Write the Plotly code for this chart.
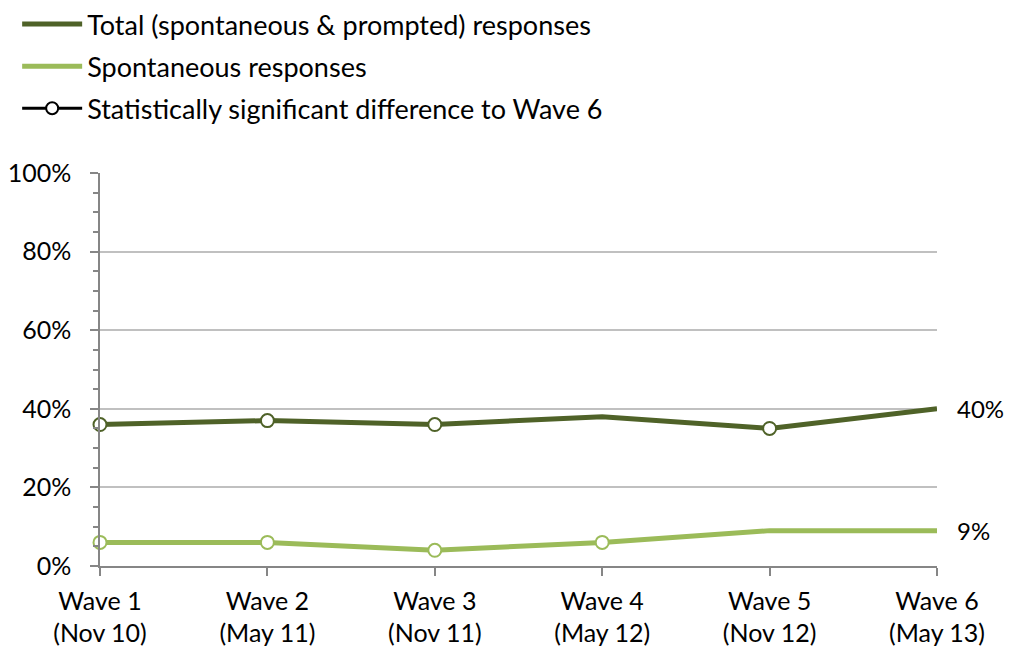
import plotly.graph_objects as go

waves = ["Wave 1<br>(Nov 10)", "Wave 2<br>(May 11)", "Wave 3<br>(Nov 11)",
         "Wave 4<br>(May 12)", "Wave 5<br>(Nov 12)", "Wave 6<br>(May 13)"]
total = [36, 37, 36, 38, 35, 40]
spontaneous = [6, 6, 4, 6, 9, 9]
# waves that differ significantly from Wave 6
total_sig = [True, True, True, False, True, False]
spont_sig = [True, True, True, True, False, False]

DARK = "#4f6228"
LIGHT = "#9bbb59"
FONT = "Lato, 'Open Sans', sans-serif"

x = list(range(len(waves)))

fig = go.Figure()


def add_series(values, sig, color, name, group):
    fig.add_trace(go.Scatter(
        x=x, y=values, mode="lines", name=name, legendgroup=group,
        line=dict(color=color, width=5), cliponaxis=False,
        hoverinfo="skip",
    ))
    xs = [xi for xi, s in zip(x, sig) if s]
    ys = [v for v, s in zip(values, sig) if s]
    fig.add_trace(go.Scatter(
        x=xs, y=ys, mode="markers", showlegend=False,
        marker=dict(symbol="circle", size=13, color="white",
                    line=dict(color=color, width=2)),
        cliponaxis=False, hoverinfo="skip",
    ))
    # value label at the latest wave
    fig.add_annotation(x=x[-1], y=values[-1], text=f"{values[-1]}%",
                       showarrow=False, xanchor="left", xshift=18,
                       font=dict(size=24, color="black", family=FONT))


add_series(total, total_sig, DARK, "Total (spontaneous & prompted) responses", "a")
add_series(spontaneous, spont_sig, LIGHT, "Spontaneous responses", "b")

# legend key for significance markers
fig.add_trace(go.Scatter(
    x=[None], y=[None], mode="lines+markers", legendgroup="c",
    name="Statistically significant difference to Wave 6",
    line=dict(color="black", width=3),
    marker=dict(symbol="circle", size=12, color="white",
                line=dict(color="black", width=2)),
))

fig.update_layout(
    width=1009, height=657,
    margin=dict(l=100, r=72, t=173, b=91, autoexpand=False),
    plot_bgcolor="white", paper_bgcolor="white",
    font=dict(family=FONT, size=24, color="black"),
    showlegend=True,
    legend=dict(xref="container", yref="container",
                x=0.017, xanchor="left", y=1.008, yanchor="top",
                orientation="v", tracegroupgap=4,
                font=dict(size=27), itemwidth=60,
                bgcolor="rgba(0,0,0,0)"),
    xaxis=dict(
        range=[0, 5], tickmode="array", tickvals=x, ticktext=waves,
        showgrid=False, zeroline=False,
        showline=True, linecolor="#868686", linewidth=1.5,
        ticks="outside", ticklen=8, tickcolor="#868686", tickwidth=1.5,
        tickfont=dict(size=25), ticklabelstandoff=4,
    ),
    yaxis=dict(
        range=[0, 100], tickvals=[0, 20, 40, 60, 80, 100],
        ticktext=["0%", "20%", "40%", "60%", "80%", "100%"],
        showgrid=True, gridcolor="#c0c0c0", gridwidth=1.5,
        zeroline=False,
        showline=True, linecolor="#868686", linewidth=1.5,
        ticks="outside", ticklen=8, tickcolor="#868686", tickwidth=1.5,
        minor=dict(dtick=5, ticks="outside", ticklen=5,
                   tickcolor="#868686", showgrid=False),
        tickfont=dict(size=25), ticklabelstandoff=14,
    ),
)

fig.write_html("out.html")
